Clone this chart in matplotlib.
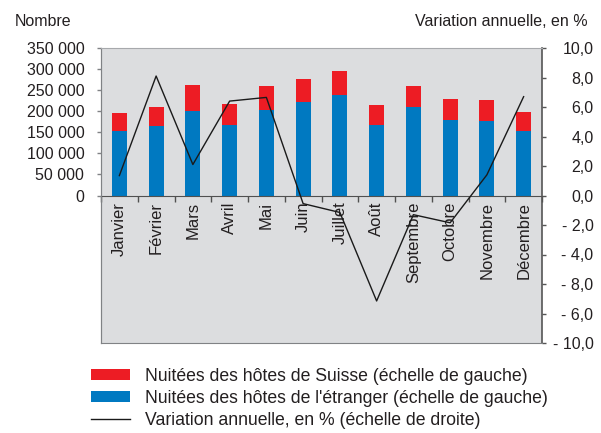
import numpy as np
import matplotlib
matplotlib.use('Agg')
import matplotlib.pyplot as plt

plt.rcParams['font.family'] = ['Liberation Sans', 'DejaVu Sans']

# Data
mois = ['Janvier', 'Février', 'Mars', 'Avril', 'Mai', 'Juin', 'Juillet',
        'Août', 'Septembre', 'Octobre', 'Novembre', 'Décembre']
etranger = [153000, 166000, 201000, 168000, 204000, 223000, 239000,
            168000, 210000, 180000, 177000, 152000]
total = [196000, 210000, 262000, 217000, 260000, 277000, 296000,
         215000, 260000, 229000, 227000, 199000]
suisse = [t - e for t, e in zip(total, etranger)]
variation = [1.35, 8.1, 2.1, 6.4, 6.65, -0.55, -1.15, -7.15, -1.3, -1.85, 1.4, 6.7]

left_ticks = [0, 50000, 100000, 150000, 200000, 250000, 300000, 350000]
left_labels = ['0', '50 000', '100 000', '150 000', '200 000', '250 000', '300 000', '350 000']
right_ticks = [10, 8, 6, 4, 2, 0, -2, -4, -6, -8, -10]
right_labels = ['10,0', '8,0', '6,0', '4,0', '2,0', '0,0', '- 2,0', '- 4,0', '- 8,0', '- 6,0', '- 10,0']

red = '#ED1C24'
blue = '#0079C1'
gray = '#808285'
txt = '#231F20'

fig = plt.figure(figsize=(6.01, 4.33), dpi=100)
ax = fig.add_axes([101/601, 1-343/433, 441/601, 295/433])
ax.set_facecolor('#DCDDDF')

x = np.arange(len(mois))
w = 0.41
ax.bar(x, etranger, w, color=blue, zorder=2, label="Nuitées des hôtes de l'étranger (échelle de gauche)")
ax.bar(x, suisse, w, bottom=etranger, color=red, zorder=2, label='Nuitées des hôtes de Suisse (échelle de gauche)')

ax.set_xlim(-0.5, len(mois) - 0.5)
ax.set_ylim(-350000, 350000)
ax.set_yticks(left_ticks)
ax.set_yticklabels(left_labels)
ax.tick_params(axis='y', direction='out', length=3, width=1, color=gray, pad=9,
               labelsize=11.5, labelcolor=txt)

# category axis sits on the zero line
ax.spines['bottom'].set_position(('data', 0))
ax.spines['bottom'].set_color('#505050')
ax.spines['bottom'].set_zorder(3)
ax.set_xticks(x)
ax.set_xticklabels(mois, rotation=90, va='top', ha='center')
ax.set_xticks(np.arange(len(mois) + 1) - 0.5, minor=True)
ax.tick_params(axis='x', which='major', length=0, pad=4.5, labelsize=12, labelcolor=txt)
ax.tick_params(axis='x', which='minor', direction='out', length=4, width=1, color='#505050')
for s in ['top', 'right']:
    ax.spines[s].set_visible(False)
ax.spines['left'].set_color(gray)

ax2 = ax.twinx()
line, = ax2.plot(x, variation, color='#1a1a1a', lw=1.0, zorder=4,
                 label='Variation annuelle, en % (échelle de droite)')
ax2.set_ylim(-10, 10)
ax2.set_yticks(right_ticks)
ax2.set_yticklabels(right_labels)
ax2.tick_params(axis='y', direction='out', length=3, width=1, color='#555555', pad=34,
                labelsize=11.5, labelcolor=txt)
for lab in ax2.get_yticklabels():
    lab.set_ha('right')
ax2.spines['right'].set_color('#555555')
ax2.spines['right'].set_linewidth(1.2)
ax2.spines['top'].set_color('#A7A9AC')
ax2.spines['bottom'].set_color(gray)
ax2.spines['left'].set_color(gray)

fig.text(15/601, 1-21/433, 'Nombre', fontsize=11.5, color=txt, va='center', ha='left')
fig.text(588/601, 1-21/433, 'Variation annuelle, en %', fontsize=11.5, color=txt, va='center', ha='right')

h1, l1 = ax.get_legend_handles_labels()
handles = [h1[1], h1[0], line]
labels = [l1[1], l1[0], line.get_label()]
fig.legend(handles, labels, loc='upper left', bbox_to_anchor=(91/601, 1-368/433),
           frameon=False, fontsize=12.7, handlelength=2.2, handleheight=0.56,
           handletextpad=0.85, labelspacing=0.27, borderpad=0, borderaxespad=0,
           labelcolor=txt)

fig.savefig('out.png', dpi=100)
